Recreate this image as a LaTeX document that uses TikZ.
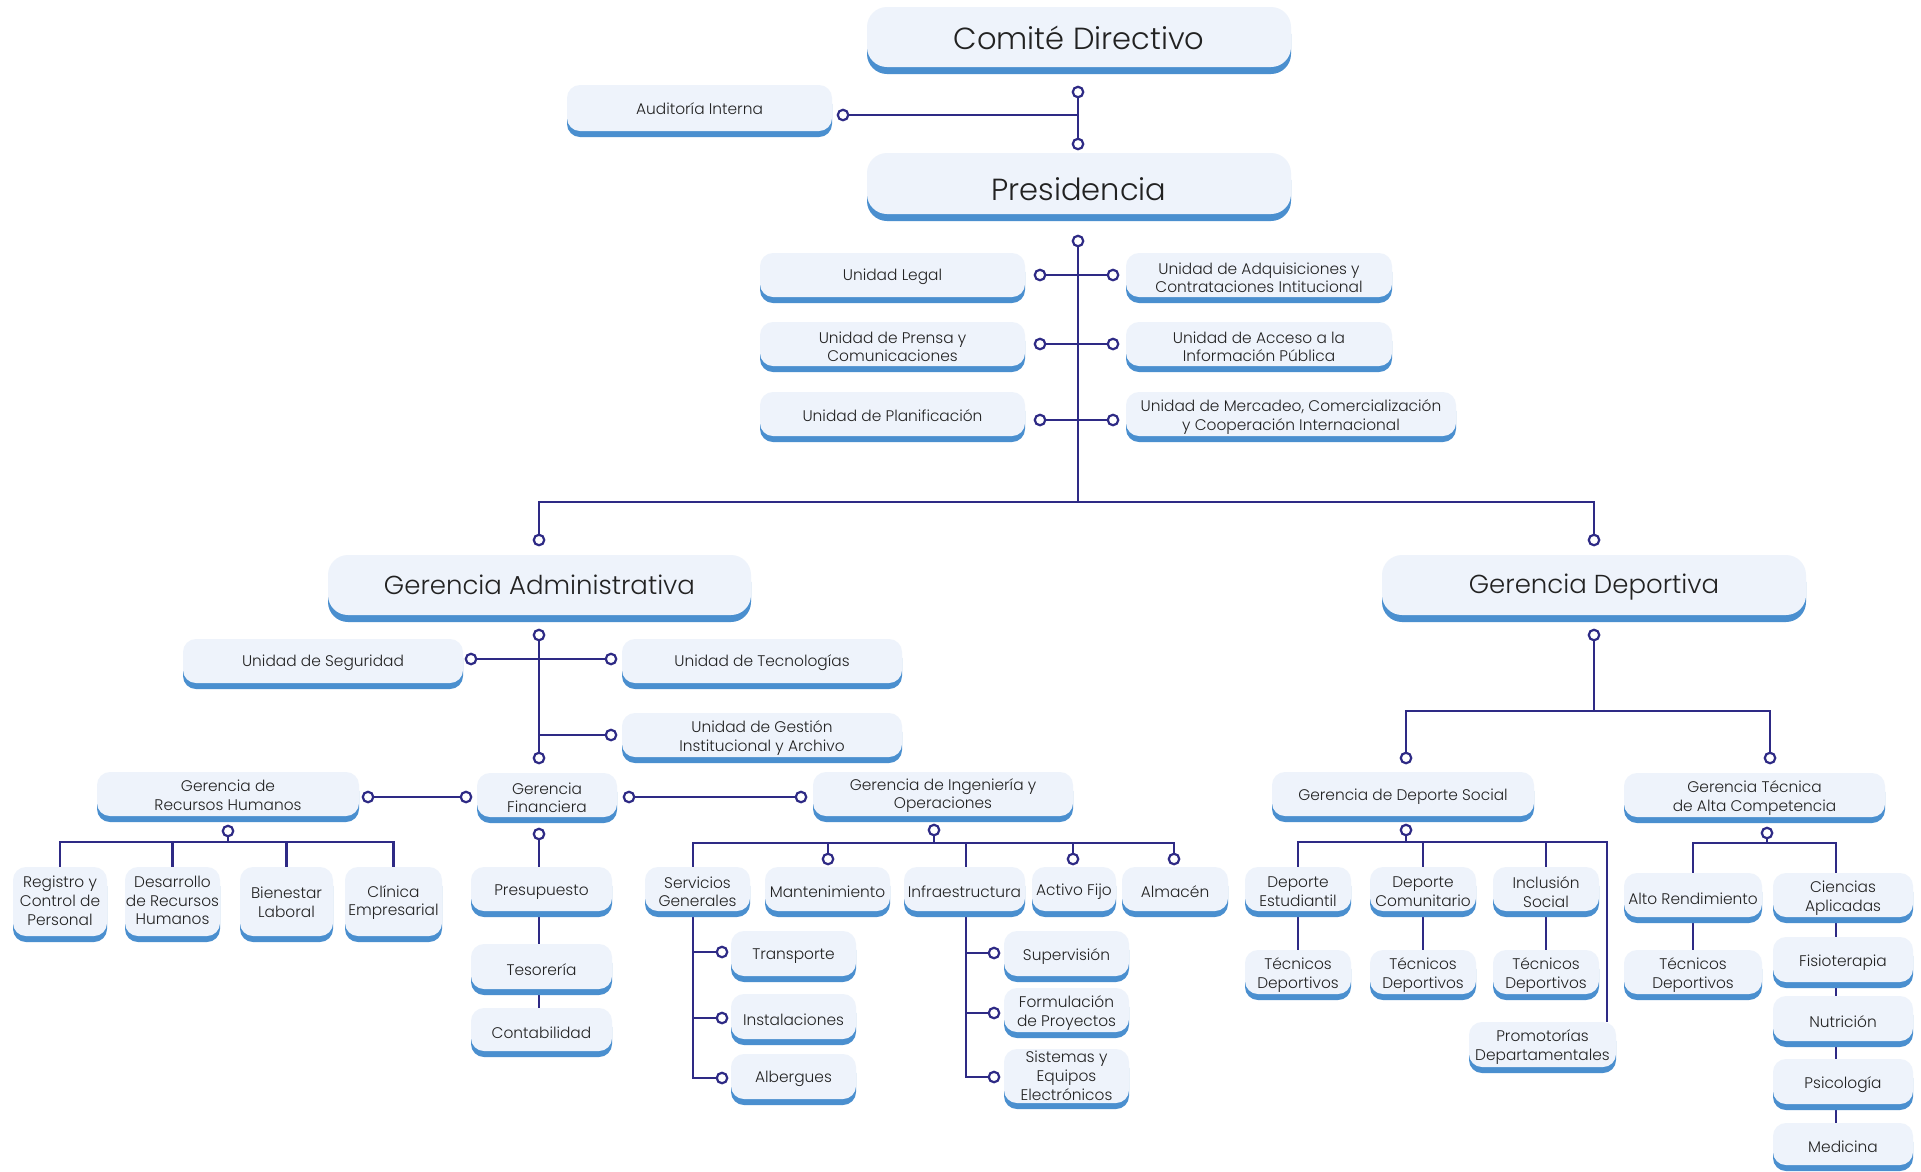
\documentclass[tikz,border=0pt]{standalone}
\usepackage{fontspec}
\IfFontExistsTF{Poppins Light}{\setmainfont{Poppins Light}}{\setmainfont{Poppins}}
\usetikzlibrary{shadows,backgrounds}
\definecolor{boxfill}{HTML}{EEF3FB}
\definecolor{boxblue}{HTML}{4A8FCF}
\definecolor{ln}{HTML}{2E2A85}
\definecolor{txt}{HTML}{222222}
\tikzset{
  boxbase/.style={rounded corners=13pt, fill=boxfill, inner sep=0pt},
  box/.style={boxbase, general shadow={fill=boxblue, shadow yshift=-6pt}},
  bigbox/.style={boxbase, rounded corners=20pt, general shadow={fill=boxblue, shadow yshift=-7pt}},
  smalltxt/.style={inner sep=0pt, align=center, text=txt, font=\fontsize{15.4}{18.8}\selectfont},
  bigtxt/.style={inner sep=0pt, align=center, text=txt, font=\fontsize{26}{32}\selectfont},
  toptxt/.style={bigtxt, font=\fontsize{30.5}{34}\selectfont},
  dot/.style={circle, draw=ln, fill=white, line width=2.2pt, minimum size=10.5pt, inner sep=0pt},
  conn/.style={draw=ln, line width=2.4pt},
}
% small box: [text shift down], name, x1, x2, y1, y2 (body), text
\newcommand\bx[7][2.8]{%
  \node[box, minimum width={#4-#3}, minimum height={#6-#5}] (#2) at ({(#3+#4)/2},{(#5+#6)/2}) {};
  \node[smalltxt] (#2t) at ([yshift=-#1pt]#2.center) {#7};}
% big box: text style, name, x1, x2, y1, y2 (body), text, text shift down
\newcommand\bbx[8]{%
  \node[bigbox, minimum width={#4-#3}, minimum height={#6-#5}] (#2) at ({(#3+#4)/2},{(#5+#6)/2}) {};
  \node[#1] (#2t) at ([yshift=-#8pt]#2.center) {#7};}
\newcommand\dt[3]{\node[dot] (#1) at (#2,#3) {};}
\begin{document}
\begin{tikzpicture}[x=1pt,y=-1pt]
\useasboundingbox (0,0) rectangle (1921,1171);
% boxes
\bbx{toptxt}{cd}{867}{1291}{7}{67}{Comité Directivo}{0.5}
\bbx{toptxt}{pres}{867}{1291}{153}{214}{Presidencia}{6}
\bbx{bigtxt}{gadm}{328}{751}{555}{615}{Gerencia Administrativa}{0}
\bbx{bigtxt}{gdep}{1382}{1806}{555}{615}{Gerencia Deportiva}{2.5}
\bx[1]{aud}{567}{832}{85}{131}{Auditoría Interna}
\bx[2]{legal}{760}{1025}{253}{297}{Unidad Legal}
\bx{adq}{1126}{1392}{253}{297}{Unidad de Adquisiciones y\\Contrataciones Intitucional}
\bx{prensa}{760}{1025}{322}{366}{Unidad de Prensa y\\Comunicaciones}
\bx{acceso}{1126}{1392}{322}{366}{Unidad de Acceso a la\\Información Pública}
\bx[2]{plan}{760}{1025}{392}{436}{Unidad de Planificación}
\bx{merc}{1126}{1456}{392}{436}{Unidad de Mercadeo, Comercialización\\y Cooperación Internacional}
\bx[2]{seg}{183}{463}{639}{683}{Unidad de Seguridad}
\bx[2]{tec}{622}{902}{639}{683}{Unidad de Tecnologías}
\bx{gest}{622}{902}{713}{757}{Unidad de Gestión\\Institucional y Archivo}
\bx[1.5]{grh}{97}{359}{772}{816}{Gerencia de\\Recursos Humanos}
\bx{gfin}{477}{617}{773}{817}{Gerencia\\Financiera}
\bx[1.5]{ging}{813}{1073}{772}{816}{Gerencia de Ingeniería y\\Operaciones}
\bx[-1]{reg}{13}{107}{867}{936}{Registro y\\Control de\\Personal}
\bx[-1]{des}{125}{220}{867}{936}{Desarrollo\\de Recursos\\Humanos}
\bx[1]{bien}{240}{333}{867}{936}{Bienestar\\Laboral}
\bx[1]{clin}{345}{442}{867}{936}{Clínica\\Empresarial}
\bx[3.5]{presu}{471}{612}{867}{911}{Presupuesto}
\bx{teso}{471}{612}{944}{989}{Tesorería}
\bx{conta}{471}{612}{1008}{1051}{Contabilidad}
\bx{sg}{645}{750}{867}{911}{Servicios\\Generales}
\bx{mant}{765}{890}{867}{911}{Mantenimiento}
\bx{infra}{904}{1025}{867}{911}{Infraestructura}
\bx{activo}{1032}{1116}{867}{911}{Activo Fijo}
\bx{alm}{1122}{1228}{867}{911}{Almacén}
\bx{transp}{731}{856}{931}{976}{Transporte}
\bx{inst}{731}{856}{994}{1039}{Instalaciones}
\bx{alb}{731}{856}{1054}{1099}{Albergues}
\bx{sup}{1004}{1129}{931}{976}{Supervisión}
\bx{form}{1004}{1129}{988}{1032}{Formulación\\de Proyectos}
\bx[0]{sist}{1004}{1129}{1049}{1103}{Sistemas y\\Equipos\\Electrónicos}
\bx{gds}{1272}{1534}{772}{816}{Gerencia de Deporte Social}
\bx{gtac}{1624}{1885}{773}{817}{Gerencia Técnica\\de Alta Competencia}
\bx{dest}{1245}{1351}{867}{911}{Deporte\\Estudiantil}
\bx{dcom}{1370}{1476}{867}{911}{Deporte\\Comunitario}
\bx{incl}{1493}{1599}{867}{911}{Inclusión\\Social}
\bx{tec1}{1245}{1351}{950}{994}{Técnicos\\Deportivos}
\bx{tec2}{1370}{1476}{950}{994}{Técnicos\\Deportivos}
\bx{tec3}{1493}{1599}{950}{994}{Técnicos\\Deportivos}
\bx{prom}{1469}{1616}{1022}{1067}{Promotorías\\Departamentales}
\bx[3.5]{alto}{1624}{1762}{873}{917}{Alto Rendimiento}
\bx{tec4}{1624}{1762}{950}{994}{Técnicos\\Deportivos}
\bx{cien}{1773}{1913}{873}{917}{Ciencias\\Aplicadas}
\bx{fisio}{1773}{1913}{937}{982}{Fisioterapia}
\bx{nutri}{1773}{1913}{996}{1041}{Nutrición}
\bx{psico}{1773}{1913}{1059}{1104}{Psicología}
\bx{medi}{1773}{1913}{1123}{1165}{Medicina}
% dots
\dt{d1}{1078}{92}\dt{d2}{1078}{144}\dt{daud}{843}{115}\dt{d3}{1078}{241}
\dt{dl1}{1040}{275}\dt{dr1}{1113}{275}\dt{dl2}{1040}{344}\dt{dr2}{1113}{344}
\dt{dl3}{1040}{420}\dt{dr3}{1113}{420}
\dt{dga}{539}{540}\dt{dgd}{1594}{540}
\dt{dga2}{539}{635}\dt{dseg}{471}{659}\dt{dtec}{611}{659}\dt{dgest}{611}{735}\dt{dfin}{539}{758}
\dt{drh}{368}{797}\dt{dfinl}{466}{797}\dt{dfinr}{629}{797}\dt{ding}{801}{797}
\dt{drh2}{228}{831}\dt{dfin2}{539}{834}\dt{ding2}{934}{830}
\dt{dmant}{828}{859}\dt{dact}{1073}{859}\dt{dalm}{1174}{859}
\dt{dtr}{722}{952}\dt{dins}{722}{1018}\dt{dalb}{722}{1078}
\dt{dsup}{994}{953}\dt{dform}{994}{1013}\dt{dsist}{994}{1077}
\dt{dgd2}{1594}{635}\dt{dgds}{1406}{758}\dt{dgtac}{1770}{758}
\dt{dgds2}{1406}{830}\dt{dgtac2}{1767}{833}
% junction coordinates
\coordinate (mbar) at (1078,502);
\coordinate (rhb) at (228,842);
\coordinate (ingb) at (934,843);
\coordinate (sgx) at (693,843);
\coordinate (infx) at (966,843);
\coordinate (gdb) at (1594,711);
\coordinate (dsb) at (1406,842);
\coordinate (promx) at (1607,842);
\coordinate (tab) at (1767,843);
\coordinate (cienx) at (1836,843);
\begin{pgfonlayer}{background}
\fill[white] (0,0) rectangle (1921,1171);
\draw[conn] (d1) -- (d2);
\draw[conn] (daud) -- (daud -| d1);
\draw[conn] (d3) -- (mbar);
\draw[conn] (dga) -- (dga |- mbar) -- (dgd |- mbar) -- (dgd);
\draw[conn] (dl1) -- (dr1);
\draw[conn] (dl2) -- (dr2);
\draw[conn] (dl3) -- (dr3);
\draw[conn] (dga2) -- (dfin);
\draw[conn] (dseg) -- (dtec);
\draw[conn] (dgest) -- (dgest -| dga2);
\draw[conn] (drh) -- (dfinl);
\draw[conn] (dfinr) -- (ding);
\draw[conn] (drh2) -- (rhb);
\draw[conn] (reg.north) |- (rhb) -| (clin.north);
\draw[conn] (des.north) -- (des.north |- rhb);
\draw[conn] (bien.north) -- (bien.north |- rhb);
\draw[conn] (dfin2) -- (dfin2 |- presu.north);
\draw[conn] (presu.south -| dfin2) -- (conta.north -| dfin2);
\draw[conn] (ding2) -- (ingb);
\draw[conn] (sgx |- sg.north) -- (sgx) -- (dalm |- ingb) -- (dalm);
\draw[conn] (dmant) -- (dmant |- ingb);
\draw[conn] (dact) -- (dact |- ingb);
\draw[conn] (infx) -- (infx |- infra.north);
\draw[conn] (sgx |- sg.south) -- (sgx |- dalb) -- (dalb);
\draw[conn] (sgx |- dtr) -- (dtr);
\draw[conn] (sgx |- dins) -- (dins);
\draw[conn] (infx |- infra.south) -- (infx |- dsist) -- (dsist);
\draw[conn] (infx |- dsup) -- (dsup);
\draw[conn] (infx |- dform) -- (dform);
\draw[conn] (dgd2) -- (gdb);
\draw[conn] (dgds) |- (gdb) -| (dgtac);
\draw[conn] (dgds2) -- (dsb);
\draw[conn] (dest.north) |- (promx) -- (promx |- prom.north);
\draw[conn] (dcom.north) -- (dcom.north |- dsb);
\draw[conn] (incl.north) -- (incl.north |- dsb);
\draw[conn] (dest.south) -- (tec1.north);
\draw[conn] (dcom.south) -- (tec2.north);
\draw[conn] (incl.south) -- (tec3.north);
\draw[conn] (dgtac2) -- (tab);
\draw[conn] (alto.north) |- (cienx) -- (cienx |- cien.north);
\draw[conn] (alto.south) -- (tec4.north);
\draw[conn] (cienx |- cien.south) -- (cienx |- medi.north);
\end{pgfonlayer}
\end{tikzpicture}
\end{document}
